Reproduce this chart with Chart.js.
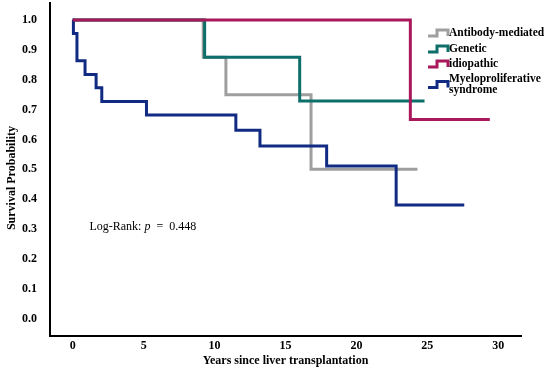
<!DOCTYPE html>
<html>
<head>
<meta charset="utf-8">
<script src="https://cdn.jsdelivr.net/npm/chart.js@4.4.1/dist/chart.umd.min.js"></script>
<style>
  html, body { margin: 0; padding: 0; background: #fff; }
  #wrap { width: 550px; height: 381px; }
</style>
</head>
<body>
<div id="wrap"><canvas id="km"></canvas></div>
<script>
// Kaplan-Meier steps (years, survival)
const groups = ["Antibody-mediated", "Genetic", "idiopathic", "Myeloproliferative syndrome"];
const antibodyT = [0, 9.2, 10.8, 16.8, 24.3];
const antibodyS = [1.0, 0.875, 0.75, 0.5, 0.5];
const geneticT = [0, 9.3, 16.0, 24.8];
const geneticS = [1.0, 0.875, 0.729, 0.729];
const idiopathicT = [0, 23.8, 29.4];
const idiopathicS = [1.0, 0.667, 0.667];
const myeloT = [0, 0.05, 0.3, 0.87, 1.65, 2.05, 5.2, 11.5, 13.2, 17.9, 22.8, 27.6];
const myeloS = [1.0, 0.955, 0.864, 0.818, 0.773, 0.727, 0.682, 0.631, 0.578, 0.511, 0.381, 0.381];
const xTicks = [0, 5, 10, 15, 20, 25, 30];
const yTicks = [0, 0.1, 0.2, 0.3, 0.4, 0.5, 0.6, 0.7, 0.8, 0.9, 1.0];
const colors = ["#a09fa0", "#0e6e69", "#a8185b", "#112b83"];

function pts(t, s) {
    return t.map((x, i) => ({ x: x, y: s[i] }));
}

const serif = '"Liberation Serif", "DejaVu Serif", serif';

// legend, axis titles and the log-rank note
const extras = {
    id: 'extras',
    afterDraw(chart) {
        const ctx = chart.ctx;
        const area = chart.chartArea;
        ctx.save();
        ctx.fillStyle = '#000';

        // axis titles
        ctx.font = 'bold 12px ' + serif;
        ctx.textAlign = 'center';
        ctx.textBaseline = 'middle';
        ctx.fillText('Years since liver transplantation', (area.left + area.right) / 2, 361);
        ctx.save();
        ctx.translate(12, 178);
        ctx.rotate(-Math.PI / 2);
        ctx.fillText('Survival Probability', 0, 0);
        ctx.restore();

        // Log-Rank note
        const xs = chart.scales.x, ys = chart.scales.y;
        let x = xs.getPixelForValue(1.18);
        const y = ys.getPixelForValue(0.306);
        ctx.textAlign = 'left';
        ctx.font = '12px ' + serif;
        const a = 'Log-Rank: ';
        ctx.fillText(a, x, y);
        x += ctx.measureText(a).width;
        ctx.font = 'italic 12px ' + serif;
        ctx.fillText('p', x, y);
        x += ctx.measureText('p ').width;
        ctx.font = '12px ' + serif;
        ctx.fillText(' =  0.448', x, y);

        // legend with step icons
        const rows = [[33], [49], [64], [79, 90]];
        const labels = [["Antibody-mediated"], ["Genetic"], ["idiopathic"], ["Myeloproliferative", "syndrome"]];
        ctx.font = 'bold 11.5px ' + serif;
        rows.forEach((r, i) => {
            const cy = r.length > 1 ? (r[0] + r[1]) / 2 : r[0];
            ctx.strokeStyle = colors[i];
            ctx.lineWidth = 3;
            ctx.beginPath();
            ctx.moveTo(428, cy + 3);
            ctx.lineTo(437, cy + 3);
            ctx.lineTo(437, cy - 3);
            ctx.lineTo(448, cy - 3);
            ctx.lineTo(448, cy + 3);
            ctx.stroke();
            labels[i].forEach((txt, k) => {
                ctx.fillText(txt, 449, r[k]);
            });
        });
        ctx.restore();
    }
};

// lower order is drawn on top
const drawOrder = [3, 2, 0, 1];

const data = {
    datasets: [
        { label: groups[0], data: pts(antibodyT, antibodyS), borderColor: colors[0] },
        { label: groups[1], data: pts(geneticT, geneticS), borderColor: colors[1] },
        { label: groups[2], data: pts(idiopathicT, idiopathicS), borderColor: colors[2] },
        { label: groups[3], data: pts(myeloT, myeloS), borderColor: colors[3] }
    ].map((d, i) => Object.assign(d, { order: drawOrder[i], stepped: true, borderWidth: 3, pointRadius: 0, fill: false }))
};

const config = {
    type: 'line',
    data: data,
    options: {
        responsive: true,
        maintainAspectRatio: false,
        animation: false,
        layout: { padding: { left: 0, right: 29, top: 3, bottom: 0 } },
        plugins: {
            legend: { display: false },
            tooltip: { enabled: false }
        },
        scales: {
            x: {
                type: 'linear',
                min: -1.6,
                max: 31.6,
                afterFit: s => { s.height = 45; s.paddingLeft = 0; s.paddingRight = 0; },
                afterBuildTicks: s => { s.ticks = xTicks.map(v => ({ value: v })); },
                grid: { display: false, drawTicks: false },
                border: { display: true, color: '#000', width: 2 },
                ticks: {
                    padding: 3,
                    color: '#000',
                    font: { family: serif, size: 12, weight: 'bold' }
                }
            },
            y: {
                min: -0.058,
                max: 1.057,
                afterFit: s => { s.width = 50; s.paddingTop = 0; s.paddingBottom = 0; },
                afterBuildTicks: s => { s.ticks = yTicks.map(v => ({ value: v })); },
                grid: { display: false, drawTicks: false },
                border: { display: true, color: '#000', width: 2 },
                ticks: {
                    padding: 13,
                    color: '#000',
                    font: { family: serif, size: 12, weight: 'bold' },
                    callback: v => v.toFixed(1)
                }
            }
        }
    },
    plugins: [extras]
};

new Chart(document.getElementById('km'), config);
</script>
</body>
</html>
